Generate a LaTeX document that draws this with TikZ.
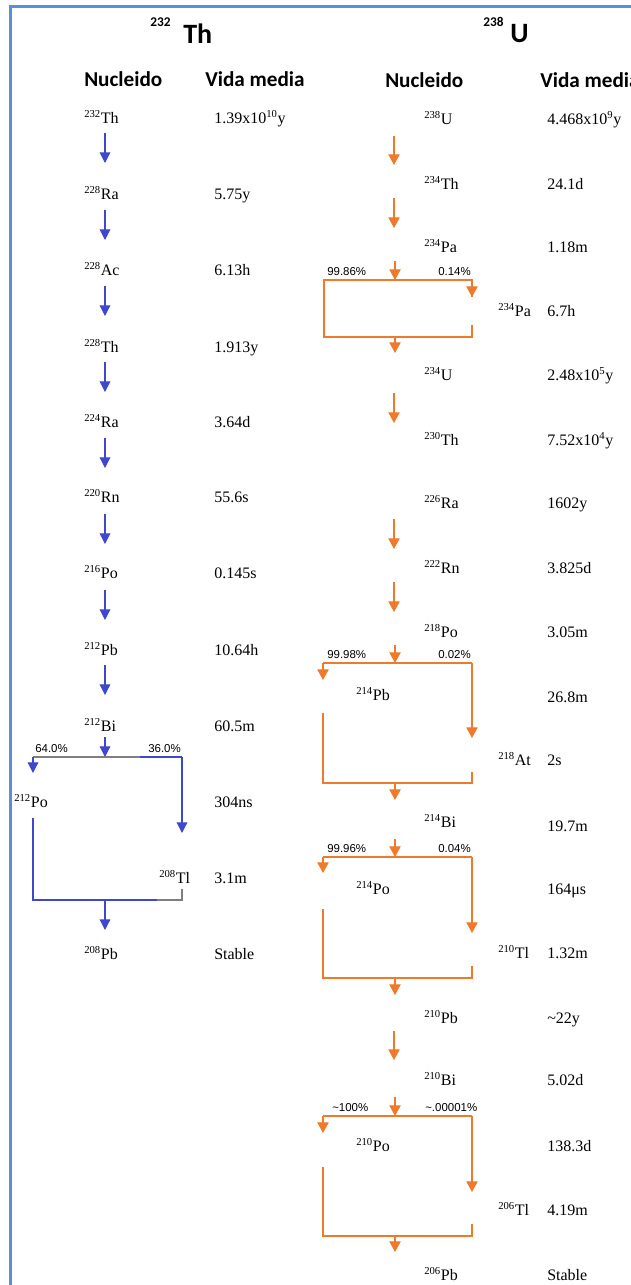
\documentclass[tikz,border=0pt]{standalone}
\usepackage{fontspec}
\setmainfont{Liberation Serif}
\newfontfamily\hdfont{Carlito}
\newfontfamily\pctfont{Liberation Sans}
\usetikzlibrary{arrows.meta}
\definecolor{bluearr}{HTML}{3F48CC}
\definecolor{orangearr}{HTML}{F07A2C}
\definecolor{bordercol}{HTML}{5B8FD6}
\definecolor{grayline}{HTML}{7F7F7F}
\newcommand\iso[2]{\textsuperscript{#1}#2}
\tikzset{
  txt/.style={anchor=base west, inner sep=0pt, font=\fontsize{12}{14}\selectfont},
  hd/.style={anchor=base west, inner sep=0pt, font=\hdfont\bfseries\fontsize{15.9}{18}\selectfont},
  pct/.style={anchor=base west, inner sep=0pt, font=\pctfont\fontsize{8.6}{10}\selectfont},
  barr/.style={draw=bluearr, line width=0.9pt, -{Triangle[width=8pt,length=8pt]}},
  bline/.style={draw=bluearr, line width=0.9pt},
  gline/.style={draw=grayline, line width=0.9pt},
  oarr/.style={draw=orangearr, line width=0.9pt, -{Triangle[width=8.5pt,length=8pt]}},
  oline/.style={draw=orangearr, line width=1.1pt},
  othick/.style={draw=orangearr, line width=1.5pt},
}
\begin{document}
\begin{tikzpicture}[x=0.75pt,y=-0.75pt]
\useasboundingbox (0,0) rectangle (631,1285);
% border
\draw[bordercol, line width=2.3pt] (10.5,1290) -- (10.5,6.5) -- (640,6.5);

% titles
\node[anchor=base west, inner sep=0pt, font=\hdfont\bfseries\fontsize{10}{12}\selectfont] (tThs) at (150,26) {232};
\node[anchor=base west, inner sep=0pt, font=\hdfont\bfseries\fontsize{21}{24}\selectfont] (tTh) at (183,43) {Th};
\node[anchor=base west, inner sep=0pt, font=\hdfont\bfseries\fontsize{10}{12}\selectfont] (tUs) at (483,26) {238};
\node[anchor=base west, inner sep=0pt, font=\hdfont\bfseries\fontsize{21}{24}\selectfont] (tU) at (510,42) {U};

\node[hd] (hN1) at (84,86) {Nucleido};
\node[hd] (hV1) at (205,86) {Vida media};
\node[hd] (hN2) at (385,87) {Nucleido};
\node[hd] (hV2) at (540,87) {Vida media};

% ---- Th chain ----
\node[txt] (th1) at (84,123) {\iso{232}{Th}};
\node[txt] (th2) at (84,199) {\iso{228}{Ra}};
\node[txt] (th3) at (84,275) {\iso{228}{Ac}};
\node[txt] (th4) at (84,352) {\iso{228}{Th}};
\node[txt] (th5) at (84,427) {\iso{224}{Ra}};
\node[txt] (th6) at (84,502) {\iso{220}{Rn}};
\node[txt] (th7) at (84,578) {\iso{216}{Po}};
\node[txt] (th8) at (84,655) {\iso{212}{Pb}};
\node[txt] (th9) at (84,731) {\iso{212}{Bi}};
\node[txt] (th10) at (14,807) {\iso{212}{Po}};
\node[txt] (th11) at (159,883) {\iso{208}{Tl}};
\node[txt] (th12) at (84,959) {\iso{208}{Pb}};

\node[txt] (lh1) at (214,123) {1.39x10\textsuperscript{10}y};
\node[txt] (lh2) at (214,199) {5.75y};
\node[txt] (lh3) at (214,275) {6.13h};
\node[txt] (lh4) at (214,352) {1.913y};
\node[txt] (lh5) at (214,427) {3.64d};
\node[txt] (lh6) at (214,502) {55.6s};
\node[txt] (lh7) at (214,578) {0.145s};
\node[txt] (lh8) at (214,655) {10.64h};
\node[txt] (lh9) at (214,731) {60.5m};
\node[txt] (lh10) at (214,807) {304ns};
\node[txt] (lh11) at (214,883) {3.1m};
\node[txt] (lh12) at (214,959) {Stable};

\foreach \ya/\yb in {133/163,210/240,286/316,362/392,438/468,514/544,590/620,665/695}
  \draw[barr] (105,\ya) -- (105,\yb);

% Bi branch
\coordinate (bS) at (105,737);
\coordinate (bJ) at (105,757);
\coordinate (bL) at (33,757);
\coordinate (bR) at (182,757);
\draw[barr] (bS) -- (bJ);
\draw[gline] (bL) -- (140,757);
\draw[bline] (140,757) -- (bR);
\draw[barr] (bL) -- (33,773);
\draw[barr] (bR) -- (182,833);
\node[pct] (p64) at (35,752) {64.0\%};
\node[pct] (p36) at (148,752) {36.0\%};
\coordinate (bLb) at (33,900);
\coordinate (bRb) at (182,900);
\coordinate (bJb) at (105,900);
\draw[bline] (33,818) -- (bLb) -- (157,900);
\draw[gline] (157,900) -- (bRb) -- (182,889);
\draw[barr] (bJb) -- (105,930);

% ---- U chain ----
\node[txt] (u1) at (424,124) {\iso{238}{U}};
\node[txt] (u2) at (424,189) {\iso{234}{Th}};
\node[txt] (u3) at (424,252) {\iso{234}{Pa}};
\node[txt] (u4) at (498,316) {\iso{234}{Pa}};
\node[txt] (u5) at (424,380) {\iso{234}{U}};
\node[txt] (u6) at (424,445) {\iso{230}{Th}};
\node[txt] (u7) at (424,508) {\iso{226}{Ra}};
\node[txt] (u8) at (424,573) {\iso{222}{Rn}};
\node[txt] (u9) at (424,637) {\iso{218}{Po}};
\node[txt] (u10) at (356,700) {\iso{214}{Pb}};
\node[txt] (u11) at (498,765) {\iso{218}{At}};
\node[txt] (u12) at (424,827) {\iso{214}{Bi}};
\node[txt] (u13) at (356,894) {\iso{214}{Po}};
\node[txt] (u14) at (498,958) {\iso{210}{Tl}};
\node[txt] (u15) at (424,1023) {\iso{210}{Pb}};
\node[txt] (u16) at (424,1085) {\iso{210}{Bi}};
\node[txt] (u17) at (356,1151) {\iso{210}{Po}};
\node[txt] (u18) at (498,1215) {\iso{206}{Tl}};
\node[txt] (u19) at (424,1280) {\iso{206}{Pb}};

\node[txt] (rh1) at (547,124) {4.468x10\textsuperscript{9}y};
\node[txt] (rh2) at (547,189) {24.1d};
\node[txt] (rh3) at (547,252) {1.18m};
\node[txt] (rh4) at (547,316) {6.7h};
\node[txt] (rh5) at (547,380) {2.48x10\textsuperscript{5}y};
\node[txt] (rh6) at (547,445) {7.52x10\textsuperscript{4}y};
\node[txt] (rh7) at (547,508) {1602y};
\node[txt] (rh8) at (547,573) {3.825d};
\node[txt] (rh9) at (547,637) {3.05m};
\node[txt] (rh10) at (547,702) {26.8m};
\node[txt] (rh11) at (547,765) {2s};
\node[txt] (rh12) at (547,831) {19.7m};
\node[txt] (rh13) at (547,894) {164μs};
\node[txt] (rh14) at (547,958) {1.32m};
\node[txt] (rh15) at (547,1023) {\textasciitilde22y};
\node[txt] (rh16) at (547,1085) {5.02d};
\node[txt] (rh17) at (547,1151) {138.3d};
\node[txt] (rh18) at (547,1215) {4.19m};
\node[txt] (rh19) at (547,1280) {Stable};

\foreach \ya/\yb in {136/165,198/228,393/423,519/549,582/612,1031/1060}
  \draw[oarr] (394,\ya) -- (394,\yb);

\newcommand\obranch[9]{%
  \coordinate (#9s) at (395,#1);
  \coordinate (#9j) at (395,#2);
  \coordinate (#9l) at (323,#2);
  \coordinate (#9r) at (472,#2);
  \draw[oarr] (#9s) -- (#9j);
  \draw[othick] (#9l) -- (#9r);
  \draw[oarr] (#9l) -- (323,#3);
  \draw[oarr] (#9r) -- (472,#4);
  \coordinate (#9lb) at (323,#6);
  \coordinate (#9rb) at (472,#6);
  \draw[oline] (323,#5) -- (#9lb) -- (#9rb) -- (472,#7);
  \draw[oarr] (395,#6) -- (395,#8);
}
% branch 1 (Pa-234)
\coordinate (c1s) at (395,261);
\coordinate (c1j) at (395,280);
\draw[oarr] (c1s) -- (c1j);
\draw[oline] (472,297) -- (472,280) -- (324,280) -- (324,337) -- (472,337) -- (472,325);
\draw[oarr] (472,280) -- (472,297);
\draw[oarr] (395,337) -- (395,353);
\node[pct] (q1a) at (327,275) {99.86\%};
\node[pct] (q1b) at (438,275) {0.14\%};

\obranch{645}{663}{680}{738}{713}{783}{772}{800}{c2}
\node[pct] (q2a) at (327,658) {99.98\%};
\node[pct] (q2b) at (438,658) {0.02\%};

\obranch{839}{857}{873}{933}{909}{978}{966}{995}{c3}
\node[pct] (q3a) at (327,852) {99.96\%};
\node[pct] (q3b) at (438,852) {0.04\%};

\obranch{1097}{1116}{1133}{1192}{1167}{1236}{1224}{1252}{c4}
\node[pct] (q4a) at (332,1111) {\textasciitilde100\%};
\node[pct] (q4b) at (425,1111) {\textasciitilde.00001\%};
\end{tikzpicture}
\end{document}
